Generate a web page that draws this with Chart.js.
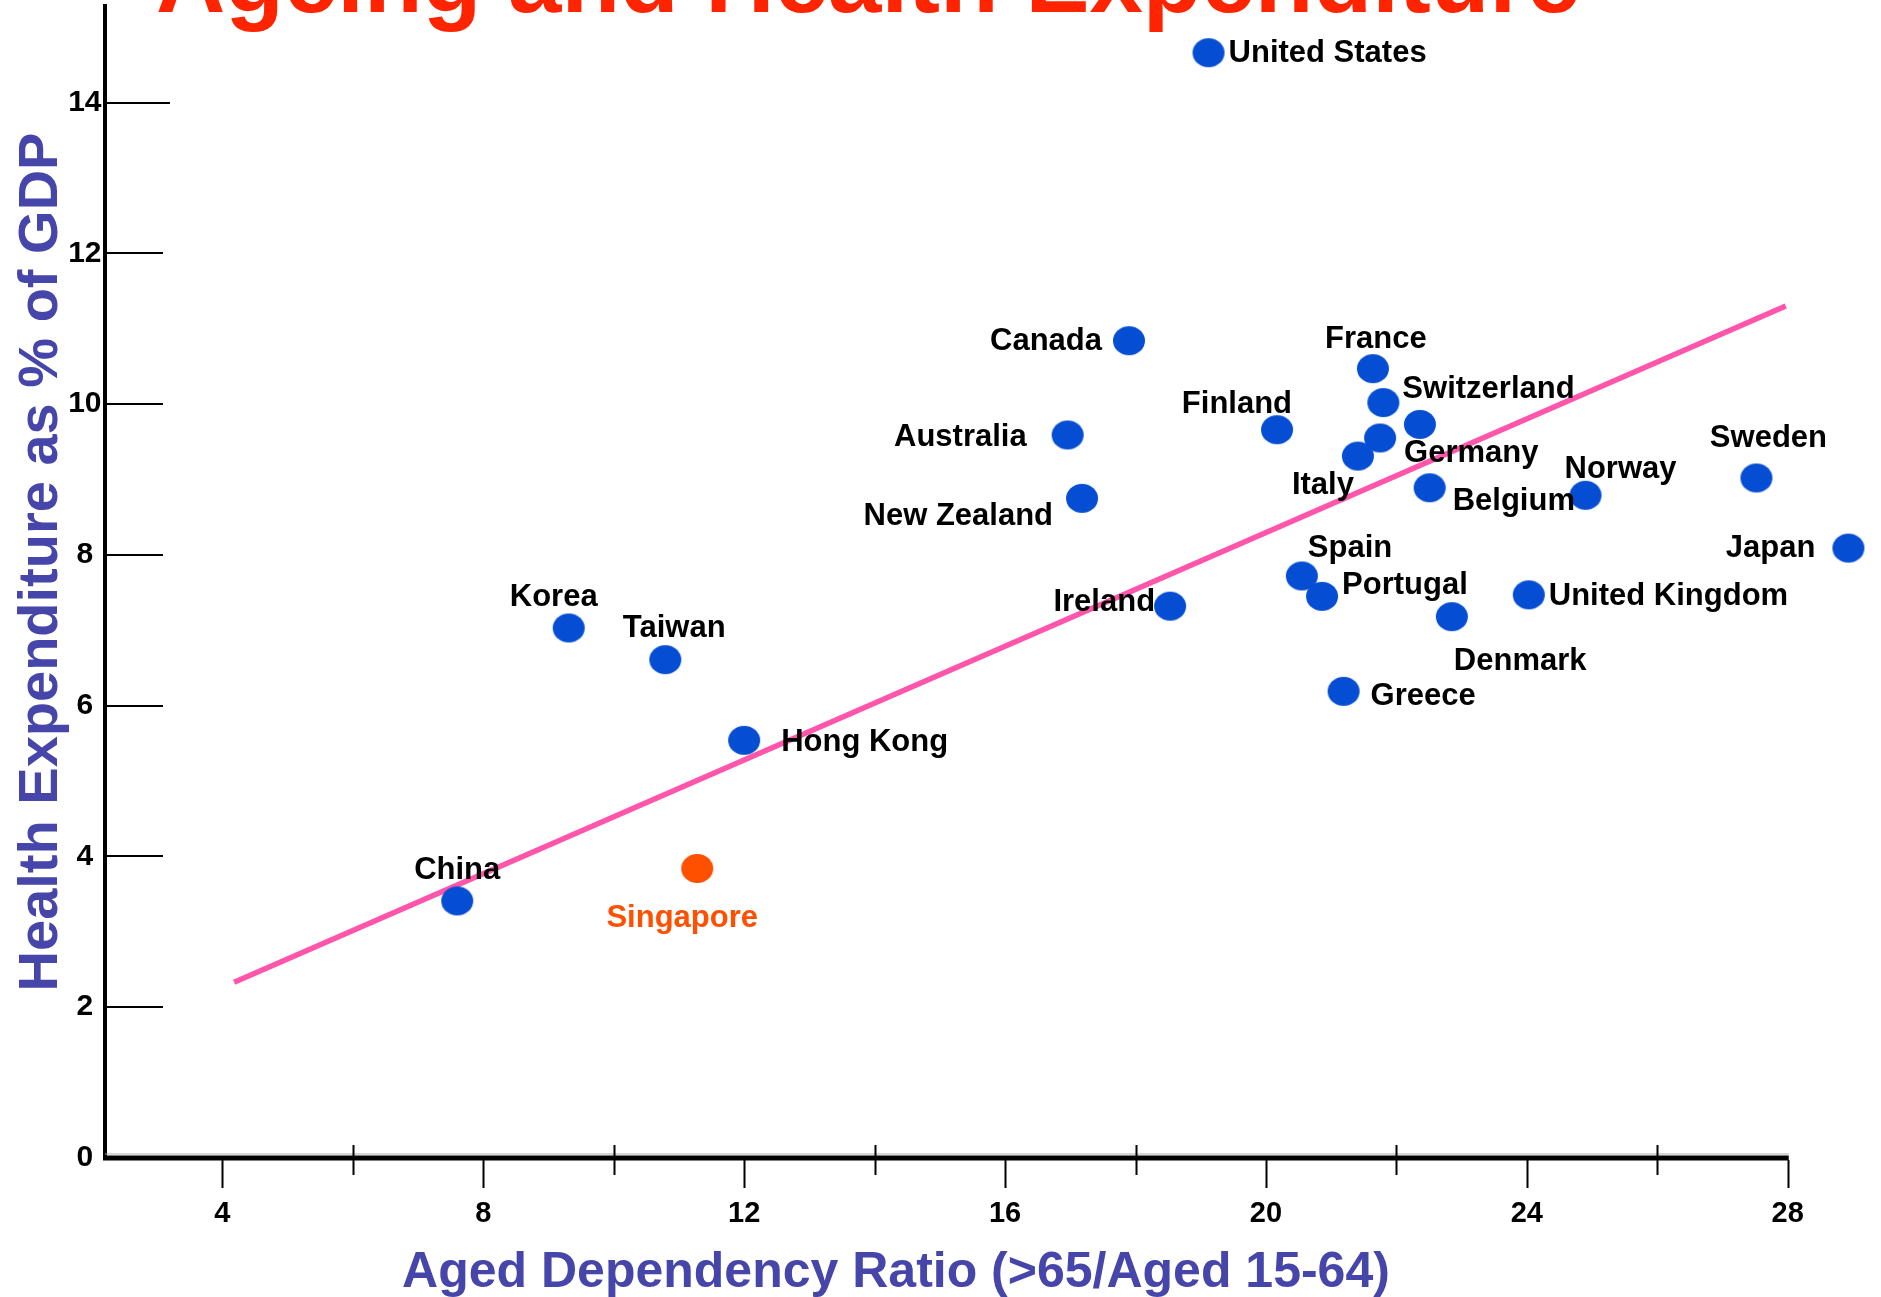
<!DOCTYPE html>
<html>
<head>
<meta charset="utf-8">
<title>Ageing and Health Expenditure</title>
<script src="https://cdn.jsdelivr.net/npm/chart.js@4.4.1/dist/chart.umd.min.js"></script>
<style>
  html, body { margin: 0; padding: 0; background: #ffffff; overflow: hidden; }
  canvas { display: block; }
</style>
</head>
<body>
<canvas id="chart" width="1881" height="1297"></canvas>
<script>
// ---- data ----
const countries = [
  'United States', 'Canada', 'France', 'Switzerland', '', 'Germany', 'Italy',
  'Finland', 'Australia', 'New Zealand', 'Belgium', 'Norway', 'Sweden', 'Japan',
  'Spain', 'Portugal', 'Ireland', 'United Kingdom', 'Denmark', 'Korea', 'Taiwan',
  'Greece', 'Hong Kong', 'China'
];
// aged dependency ratio (>65 / aged 15-64)
const agedDependency = [
  19.12, 17.90, 21.64, 21.80, 22.36, 21.75, 21.41,
  20.17, 16.96, 17.18, 22.51, 24.90, 27.52, 28.93,
  20.55, 20.86, 18.53, 24.03, 22.85, 9.31, 10.79,
  21.19, 12.00, 7.60
];
// health expenditure as % of GDP
const healthExpenditure = [
  14.66, 10.84, 10.47, 10.02, 9.73, 9.55, 9.31,
  9.66, 9.59, 8.75, 8.89, 8.79, 9.02, 8.09,
  7.72, 7.45, 7.32, 7.47, 7.18, 7.03, 6.61,
  6.19, 5.54, 3.41
];
const highlightCountries = ['Singapore'];
const highlightAged = [11.28];
const highlightHealth = [3.84];

// fitted trend line end points
const trendAged = [4.18, 27.97];
const trendHealth = [2.33, 11.30];

const xTickValues = [4, 8, 12, 16, 20, 24, 28];
const xMinorTickValues = [6, 10, 14, 18, 22, 26];
const yTickValues = [0, 2, 4, 6, 8, 10, 12, 14];

const chartTitle = 'Ageing and Health Expenditure';
const xTitle = 'Aged Dependency Ratio (>65/Aged 15-64)';
const yTitle = 'Health Expenditure as % of GDP';

// where each country name sits relative to its dot: [dx, dy, align]
const labelPlacement = {
  'United States': [20, -1.5, 'left'],
  'Canada': [-27, -2, 'right'],
  'France': [3, -32, 'center'],
  'Switzerland': [19, -16, 'left'],
  'Germany': [24, 13, 'left'],
  'Italy': [-4, 26.5, 'right'],
  'Finland': [15, -27.5, 'right'],
  'Australia': [-41, 0, 'right'],
  'New Zealand': [-29, 16, 'right'],
  'Belgium': [23, 11, 'left'],
  'Norway': [-21, -28, 'left'],
  'Sweden': [12, -42, 'center'],
  'Japan': [-33, -2, 'right'],
  'Spain': [6, -30, 'left'],
  'Portugal': [20, -13, 'left'],
  'Ireland': [-15, -6, 'right'],
  'United Kingdom': [20, -1, 'left'],
  'Denmark': [2, 42, 'left'],
  'Korea': [-15, -33, 'center'],
  'Taiwan': [9, -34, 'center'],
  'Greece': [27, 2.5, 'left'],
  'Hong Kong': [37, 0, 'left'],
  'China': [0, -33, 'center'],
  'Singapore': [-15, 47, 'center']
};

// ---- styling ----
const FONT = "'Liberation Sans', Arial, Helvetica, sans-serif";
const BLUE = '#054ED3';
const ORANGE = '#FF5000';
const PINK = '#FF55AA';
const TITLE_RED = '#FF2400';
const AXIS_TITLE = '#4646AA';

Chart.defaults.font.family = FONT;

function makeDot(color) {
  const c = document.createElement('canvas');
  c.width = 34; c.height = 31;
  const g = c.getContext('2d');
  g.fillStyle = color;
  g.beginPath();
  g.ellipse(17, 15.5, 16, 14.6, 0, 0, Math.PI * 2);
  g.fill();
  return c;
}
const blueDot = makeDot(BLUE);
const orangeDot = makeDot(ORANGE);

// axis line, tick marks and titles drawn on top of the library's scales
const decorations = {
  id: 'decorations',
  beforeDatasetsDraw(chart) {
    const { ctx, chartArea, scales: { x, y } } = chart;
    ctx.save();
    // horizontal axis line, ending at the last labelled tick
    const axisY = y.getPixelForValue(0);
    const xEnd = x.getPixelForValue(xTickValues[xTickValues.length - 1]) + 1;
    ctx.strokeStyle = '#b0b0b0';
    ctx.lineWidth = 1;
    ctx.beginPath();
    ctx.moveTo(chartArea.left, axisY - 4);
    ctx.lineTo(xEnd, axisY - 4);
    ctx.stroke();
    ctx.strokeStyle = '#000';
    ctx.lineWidth = 5;
    ctx.beginPath();
    ctx.moveTo(chartArea.left - 2, axisY);
    ctx.lineTo(xEnd, axisY);
    ctx.stroke();

    // x tick marks
    ctx.lineWidth = 2;
    ctx.beginPath();
    xTickValues.forEach(v => {
      const px = Math.round(x.getPixelForValue(v)) + 0.5;
      ctx.moveTo(px, axisY + 2);
      ctx.lineTo(px, axisY + 30);
    });
    xMinorTickValues.forEach(v => {
      const px = Math.round(x.getPixelForValue(v)) + 0.5;
      ctx.moveTo(px, axisY - 13);
      ctx.lineTo(px, axisY + 17);
    });
    ctx.stroke();

    // y tick marks pointing into the plot
    ctx.beginPath();
    yTickValues.forEach((v, i) => {
      if (v === 0) return;
      const py = Math.round(y.getPixelForValue(v));
      const len = i === yTickValues.length - 1 ? 65 : 58;
      ctx.moveTo(chartArea.left + 2, py);
      ctx.lineTo(chartArea.left + len, py);
    });
    ctx.stroke();
    ctx.restore();
  },
  afterDatasetsDraw(chart) {
    const { ctx } = chart;
    ctx.save();
    const size = 31;
    ctx.font = `bold ${size}px ${FONT}`;
    ctx.textBaseline = 'alphabetic';
    const capHalf = size * 0.358;
    chart.data.datasets.forEach((ds, di) => {
      if (!ds.names) return;
      const meta = chart.getDatasetMeta(di);
      meta.data.forEach((pt, i) => {
        const name = ds.names[i];
        if (!name || !labelPlacement[name]) return;
        const [dx, dy, align] = labelPlacement[name];
        ctx.fillStyle = ds.labelColor;
        ctx.textAlign = align;
        ctx.fillText(name, pt.x + dx, pt.y + dy + capHalf);
      });
    });
    ctx.restore();
  },
  afterDraw(chart) {
    const { ctx } = chart;
    ctx.save();
    // main heading
    ctx.fillStyle = TITLE_RED;
    ctx.font = `bold 96px ${FONT}`;
    ctx.textAlign = 'left';
    ctx.textBaseline = 'alphabetic';
    ctx.fillText(chartTitle, 156, 12);

    // axis titles
    ctx.fillStyle = AXIS_TITLE;
    ctx.font = `bold 50px ${FONT}`;
    ctx.textAlign = 'center';
    ctx.fillText(xTitle, 896, 1287);

    ctx.translate(57, 562);
    ctx.rotate(-Math.PI / 2);
    ctx.font = `bold 56px ${FONT}`;
    ctx.fillText(yTitle, 0, 0);
    ctx.restore();
  }
};

new Chart(document.getElementById('chart'), {
  type: 'scatter',
  data: {
    datasets: [
      {
        type: 'line',
        data: trendAged.map((v, i) => ({ x: v, y: trendHealth[i] })),
        borderColor: PINK,
        borderWidth: 5.5,
        pointRadius: 0,
        fill: false,
        clip: false,
        order: 3
      },
      {
        data: agedDependency.map((v, i) => ({ x: v, y: healthExpenditure[i] })),
        names: countries,
        labelColor: '#000000',
        pointStyle: blueDot,
        pointRadius: 16,
        pointHoverRadius: 16,
        clip: false,
        order: 2
      },
      {
        data: highlightAged.map((v, i) => ({ x: v, y: highlightHealth[i] })),
        names: highlightCountries,
        labelColor: ORANGE,
        pointStyle: orangeDot,
        pointRadius: 16,
        pointHoverRadius: 16,
        clip: false,
        order: 1
      }
    ]
  },
  options: {
    responsive: false,
    animation: false,
    devicePixelRatio: 1,
    events: [],
    layout: { autoPadding: false, padding: { top: 6, right: 15, left: 0, bottom: 0 } },
    plugins: {
      legend: { display: false },
      tooltip: { enabled: false },
      title: { display: false }
    },
    scales: {
      x: {
        type: 'linear',
        min: 2.2,
        max: 29.2,
        afterBuildTicks: s => { s.ticks = xTickValues.map(v => ({ value: v })); },
        afterFit: s => { s.height = 139; s.paddingLeft = 0; s.paddingRight = 0; },
        grid: { display: true, drawOnChartArea: false, drawTicks: false },
        border: { display: false },
        ticks: {
          color: '#000',
          font: { size: 29, weight: 'bold' },
          padding: 39,
          maxRotation: 0,
          autoSkip: false
        }
      },
      y: {
        type: 'linear',
        min: 0,
        max: 15.28,
        afterBuildTicks: s => { s.ticks = yTickValues.map(v => ({ value: v })); },
        afterFit: s => { s.width = 105; s.paddingTop = 0; s.paddingBottom = 0; },
        grid: { display: true, drawOnChartArea: false, drawTicks: false },
        border: { display: true, width: 4, color: '#000' },
        ticks: {
          color: '#000',
          font: { size: 30, weight: 'bold' },
          padding: 3.5,
          crossAlign: 'center',
          autoSkip: false
        }
      }
    }
  },
  plugins: [decorations]
});
</script>
</body>
</html>
